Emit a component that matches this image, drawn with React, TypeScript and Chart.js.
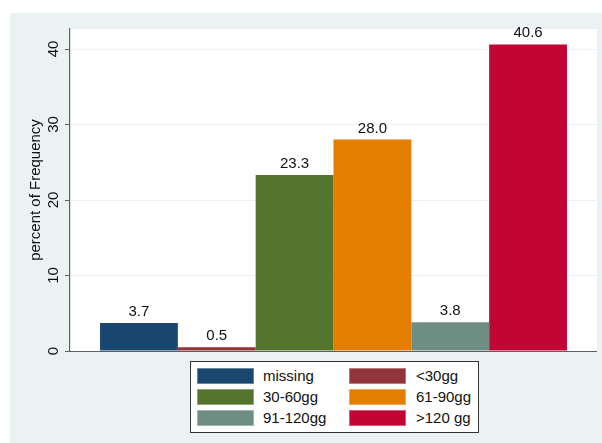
import React, { useEffect, useRef } from "react";
import { Chart, registerables } from "chart.js";

Chart.register(...registerables);

const categories = ["missing", "<30gg", "30-60gg", "61-90gg", "91-120gg", ">120 gg"];
const values = [3.7, 0.5, 23.3, 28.0, 3.8, 40.6];
const colors = ["#1A476F", "#90353B", "#55752F", "#E37E00", "#6E8E84", "#C10534"];
const yTicks = [0, 10, 20, 30, 40];
const yTitle = "percent of Frequency";

const FONT = "'Liberation Sans', Arial, sans-serif";
const BG = "#EAF2F3";

const bgPlugin = {
  id: "stataBg",
  beforeDraw(chart: any) {
    const { ctx, width, height, chartArea } = chart;
    ctx.save();
    ctx.fillStyle = "#ffffff";
    ctx.fillRect(0, 0, width, height);
    ctx.fillStyle = BG;
    ctx.fillRect(10, 13, width - 10, height - 13);
    ctx.fillStyle = "#ffffff";
    ctx.fillRect(chartArea.left, chartArea.top, chartArea.right - chartArea.left, chartArea.bottom - chartArea.top);
    ctx.restore();
  },
  afterDatasetsDraw(chart: any) {
    const { ctx, chartArea } = chart;
    ctx.save();
    ctx.strokeStyle = "#5f5f5f";
    ctx.lineWidth = 1.2;
    ctx.beginPath();
    ctx.moveTo(chartArea.left, chartArea.bottom + 0.5);
    ctx.lineTo(chartArea.right, chartArea.bottom + 0.5);
    ctx.stroke();
    ctx.fillStyle = "#111111";
    ctx.font = `15px ${FONT}`;
    ctx.textAlign = "center";
    ctx.textBaseline = "alphabetic";
    chart.data.datasets.forEach((ds: any, i: number) => {
      const meta = chart.getDatasetMeta(i);
      const bar = meta.data[0];
      if (!bar) return;
      ctx.fillText(Number(ds.data[0]).toFixed(1), bar.x, bar.y - 7);
    });
    ctx.restore();
  },
};

function Legend() {
  const cell = (i: number, col: number, row: number) => (
    <React.Fragment key={i}>
      <div
        style={{
          position: "absolute",
          left: col === 0 ? 6 : 158,
          top: 6 + row * 21,
          width: 57,
          height: 16,
          background: colors[i],
          boxShadow: "inset 0 0 0 1px rgba(255,255,255,0.35)",
        }}
      />
      <div
        style={{
          position: "absolute",
          left: col === 0 ? 72 : 225,
          top: 5 + row * 21,
          height: 18,
          lineHeight: "18px",
          fontSize: 15,
          fontFamily: FONT,
          color: "#111",
          whiteSpace: "nowrap",
        }}
      >
        {categories[i]}
      </div>
    </React.Fragment>
  );
  return (
    <div
      style={{
        position: "absolute",
        left: 190,
        top: 361,
        width: 287,
        height: 70,
        border: "1px solid #333",
        background: "#fff",
      }}
    >
      {categories.map((_, i) => cell(i, i % 2, Math.floor(i / 2)))}
    </div>
  );
}

export default function App() {
  const ref = useRef<HTMLCanvasElement | null>(null);
  useEffect(() => {
    if (!ref.current) return;
    const chart = new Chart(ref.current, {
      type: "bar",
      data: {
        labels: [""],
        datasets: categories.map((c, i) => ({
          label: c,
          data: [values[i]],
          backgroundColor: colors[i],
          borderColor: colors[i],
          borderWidth: 0,
          categoryPercentage: 0.886,
          barPercentage: 1,
        })),
      },
      options: {
        responsive: false,
        animation: false,
        devicePixelRatio: 1,
        layout: { padding: { left: 0, top: 29, right: 5, bottom: 92 } },
        plugins: { legend: { display: false }, tooltip: { enabled: false } },
        scales: {
          x: { display: false },
          y: {
            min: 0,
            max: 42.65,
            afterFit(scale: any) {
              scale.width = 70;
            },
            afterBuildTicks(scale: any) {
              scale.ticks = yTicks.map((v) => ({ value: v }));
            },
            ticks: {
              includeBounds: false,
              minRotation: 90,
              maxRotation: 90,
              crossAlign: "center",
              padding: 3,
              color: "#111",
              font: { family: FONT, size: 15 },
            },
            grid: {
              color: (ctx: any) => (ctx.tick && ctx.tick.value === 0 ? "rgba(0,0,0,0)" : BG),
              tickColor: "#5f5f5f",
              tickLength: 5,
              lineWidth: 1,
            },
            border: { display: true, color: "#5f5f5f", width: 1.2 },
            title: {
              display: true,
              text: yTitle,
              color: "#111",
              font: { family: FONT, size: 15 },
              padding: { top: 27, bottom: 0 },
            },
          },
        },
      },
      plugins: [bgPlugin],
    });
    return () => chart.destroy();
  }, []);
  return (
    <div style={{ position: "fixed", left: 0, top: 0, width: 602, height: 443 }}>
      <canvas ref={ref} width={602} height={443} style={{ display: "block" }} />
      <Legend />
    </div>
  );
}
